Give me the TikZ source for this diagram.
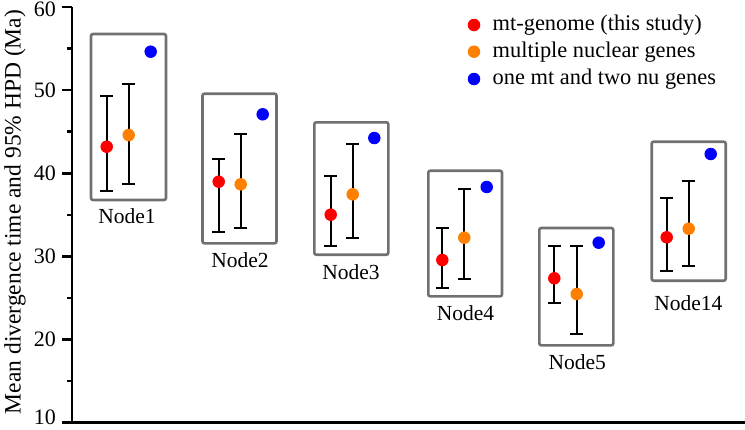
\documentclass[tikz,border=0pt]{standalone}
\usepackage{fontspec}
\setmainfont{Liberation Serif}
\definecolor{mtred}{HTML}{FF0000}
\definecolor{nuorange}{HTML}{FF8000}
\definecolor{oneblue}{HTML}{0000FF}
\definecolor{boxgray}{HTML}{707070}
\tikzset{
  dot/.style={circle, inner sep=0pt, minimum size=12.5pt},
  grpbox/.style={draw=boxgray, line width=2.6pt, rounded corners=2pt},
  ebarline/.style={line width=1.7pt, black},
  axisline/.style={line width=2.6pt, black},
  lbl/.style={font=\fontsize{21.5}{24}\selectfont, inner sep=0pt},
  ticklbl/.style={font=\fontsize{22}{24}\selectfont, inner sep=0pt, anchor=east},
  legtext/.style={font=\fontsize{22.4}{24}\selectfont, inner sep=0pt, anchor=west},
}
\newcommand\ebar[4]{% name, x, top, bottom
  \coordinate (#1t) at (#2,#3);
  \coordinate (#1b) at (#2,#4);
  \draw[ebarline] (#1t) -- (#1b);
  \draw[ebarline] ([xshift=-6.5pt]#1t) -- ([xshift=6.5pt]#1t);
  \draw[ebarline] ([xshift=-6.5pt]#1b) -- ([xshift=6.5pt]#1b);
}
\begin{document}
\begin{tikzpicture}[x=1pt,y=-1pt]
\useasboundingbox (0,0) rectangle (745,429);

% axes
\coordinate (ytop) at (72,7);
\coordinate (origin) at (72,422.7);
\coordinate (xend) at (745,422.7);
\draw[axisline] (ytop) -- (origin) -- (xend);
\foreach \v in {10,20,30,40,50,60}{
  \coordinate (tk\v) at (72,{422.7-(\v-10)*8.314});
  \draw[axisline] (tk\v) -- ++(-10,0);
}
\foreach \v/\yy in {20/339.6,30/256.4,40/173.3,50/90.1}{
  \node[ticklbl] (tl\v) at (56,\yy) {\v};
}
\node[ticklbl] (tl60) at (56,9.5) {60};
\node[ticklbl] (tl10) at (56,417) {10};
\foreach \v in {15,25,35,45,55}{
  \coordinate (mk\v) at (72,{422.7-(\v-10)*8.314});
  \draw[axisline] (mk\v) -- ++(-5,0);
}
\node[lbl, rotate=90, font=\fontsize{23.5}{26}\selectfont] (ylabel) at (15,212) {Mean divergence time and 95\% HPD (Ma)};

% Node1
\draw[grpbox] (91,34) rectangle (166,200);
\ebar{a1r}{106.7}{96}{191}
\ebar{a1o}{128.7}{84.3}{184.3}
\node[dot, fill=mtred] (a1red) at (106.7,146.7) {};
\node[dot, fill=nuorange] (a1org) at (128.7,135) {};
\node[dot, fill=oneblue] (a1blu) at (150.7,51.7) {};
\node[lbl] (lab1) at (127,216.5) {Node1};

% Node2
\draw[grpbox] (202.5,93.7) rectangle (276.5,243.3);
\ebar{a2r}{218.7}{159}{231.7}
\ebar{a2o}{240.7}{134.3}{227.7}
\node[dot, fill=mtred] (a2red) at (218.7,181.7) {};
\node[dot, fill=nuorange] (a2org) at (240.7,184.3) {};
\node[dot, fill=oneblue] (a2blu) at (262.7,114.3) {};
\node[lbl] (lab2) at (240,260) {Node2};

% Node3
\draw[grpbox] (314.3,122.3) rectangle (388.3,254.7);
\ebar{a3r}{330.7}{175.7}{245.7}
\ebar{a3o}{352.7}{144}{237.7}
\node[dot, fill=mtred] (a3red) at (330.7,214.7) {};
\node[dot, fill=nuorange] (a3org) at (352.7,194.3) {};
\node[dot, fill=oneblue] (a3blu) at (374.3,138) {};
\node[lbl] (lab3) at (351,272.5) {Node3};

% Node4
\draw[grpbox] (428.3,170.7) rectangle (502,296.3);
\ebar{a4r}{442.3}{227.7}{288}
\ebar{a4o}{464.3}{189}{279}
\node[dot, fill=mtred] (a4red) at (442.3,260) {};
\node[dot, fill=nuorange] (a4org) at (464.3,237.7) {};
\node[dot, fill=oneblue] (a4blu) at (486.7,187) {};
\node[lbl] (lab4) at (465.5,313.3) {Node4};

% Node5
\draw[grpbox] (539.3,228) rectangle (613.3,345.3);
\ebar{a5r}{554.3}{246}{302.7}
\ebar{a5o}{576.7}{246}{334}
\node[dot, fill=mtred] (a5red) at (554.3,278.3) {};
\node[dot, fill=nuorange] (a5org) at (576.7,294) {};
\node[dot, fill=oneblue] (a5blu) at (598.7,242.7) {};
\node[lbl] (lab5) at (577.3,361.7) {Node5};

% Node14
\draw[grpbox] (651.7,141.7) rectangle (725.7,280.7);
\ebar{a6r}{666.7}{198.3}{271}
\ebar{a6o}{688.7}{180.7}{265.7}
\node[dot, fill=mtred] (a6red) at (666.7,237.3) {};
\node[dot, fill=nuorange] (a6org) at (688.7,228.7) {};
\node[dot, fill=oneblue] (a6blu) at (710.7,154) {};
\node[lbl] (lab6) at (688.3,302.7) {Node14};

% legend
\node[dot, fill=mtred] (lgred) at (474,25) {};
\node[dot, fill=nuorange] (lgorg) at (474,51.7) {};
\node[dot, fill=oneblue] (lgblu) at (474,79) {};
\node[legtext] (lgt1) at (492.5,25) {mt-genome (this study)};
\node[legtext] (lgt2) at (492.5,51.7) {multiple nuclear genes};
\node[legtext] (lgt3) at (492.5,79) {one mt and two nu genes};
\end{tikzpicture}
\end{document}
